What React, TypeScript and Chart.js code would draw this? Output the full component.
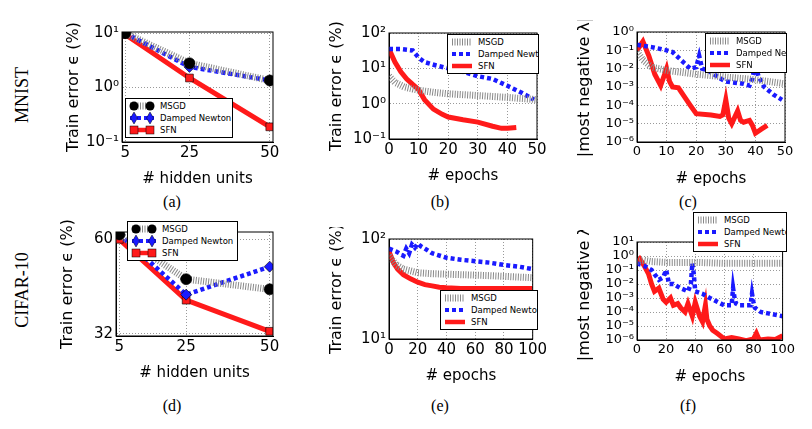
import React, { useEffect, useRef } from "react";
import { Chart, registerables } from "chart.js";
Chart.register(...registerables);

// ---- data ----
const unitsA = [5, 25, 50];
const aMSGD = [10, 2.8, 1.35];
const aDN = [10, 2.4, 1.35];
const aSFN = [9.5, 1.5, 0.19];

const bMSGDx = [0, 2, 5, 8, 10, 15, 20, 30, 40, 50];
const bMSGDy = [6, 4, 3, 2.6, 2.4, 2.1, 1.9, 1.7, 1.5, 1.3];
const bDNx = [0, 4, 8, 10, 12, 16, 20, 25, 30, 35, 40, 45, 49];
const bDNy = [35, 35, 32, 20, 15, 12, 10, 8, 6, 5, 3.2, 2, 1.3];
const bSFNx = [0, 2, 4, 6, 8, 10, 12, 15, 18, 20, 25, 30, 35, 38, 40, 43];
const bSFNy = [35, 15, 8, 5, 3.5, 2.5, 1.3, 0.7, 0.5, 0.42, 0.35, 0.3, 0.23, 0.2, 0.2, 0.21];

const cMSGDx = [0, 2, 5, 10, 20, 30, 40, 50];
const cMSGDy = [0.08, 0.03, 0.012, 0.008, 0.005, 0.0035, 0.0025, 0.0015];
const cDNx = [0, 5, 10, 12, 16, 18, 20, 21, 22, 24, 28, 30, 36, 38, 39, 40, 41, 43, 46, 49];
const cDNy = [0.2, 0.15, 0.1, 0.08, 0.02, 0.01, 0.012, 0.05, 0.01, 0.008, 0.003, 0.002, 0.0015, 0.0012, 0.003, 0.02, 0.004, 0.001, 0.0004, 0.0002];
const cSFNx = [0, 2, 4, 6, 8, 10, 11, 12, 14, 16, 18, 20, 25, 28, 29, 30, 31, 32, 34, 35, 36, 38, 39, 40, 42, 44];
const cSFNy = [0.1, 0.3, 0.05, 0.005, 0.0012, 0.01, 0.002, 0.001, 0.0009, 0.0003, 0.0001, 3.5e-5, 3e-5, 2.5e-5, 3e-5, 2e-4, 2e-5, 1e-5, 5e-5, 1.5e-5, 1.2e-5, 1.5e-5, 8e-6, 3e-6, 5e-6, 8e-6];

const dMSGD = [62, 46, 43];
const dDN = [62, 41.5, 50];
const dSFN = [60, 40, 32.5];

const eMSGDx = [0, 5, 10, 20, 30, 50, 70, 100];
const eMSGDy = [68, 55, 50, 46, 45, 44, 43, 41];
const eDNx = [0, 5, 10, 12, 14, 16, 18, 20, 22, 25, 30, 40, 50, 60, 70, 80, 90, 100];
const eDNy = [80, 75, 68, 80, 72, 88, 82, 90, 85, 80, 72, 65, 62, 60, 58, 55, 53, 50];
const eSFNx = [0, 3, 6, 10, 15, 20, 25, 30, 35, 40, 50, 60, 80, 100];
const eSFNy = [75, 58, 50, 44, 40, 37, 35, 34, 33, 32.5, 32, 32, 32, 32];

const fMSGDx = [0, 5, 10, 20, 40, 60, 80, 100];
const fMSGDy = [0.4, 0.5, 0.4, 0.35, 0.35, 0.3, 0.3, 0.3];
const fDNx = [0, 5, 10, 12, 15, 18, 20, 22, 25, 30, 35, 37, 38, 39, 40, 45, 50, 60, 65, 66, 67, 68, 70, 78, 79, 80, 81, 85, 90, 100];
const fDNy = [0.3, 0.2, 0.1, 0.05, 0.02, 0.03, 0.1, 0.01, 0.01, 0.005, 0.003, 0.01, 0.3, 0.05, 0.003, 0.002, 0.001, 0.0003, 0.0003, 0.005, 0.001, 0.0004, 0.0003, 0.0003, 0.002, 0.0005, 0.0002, 0.0001, 0.00008, 0.00005];
const fSFNx = [0, 2, 5, 8, 10, 12, 15, 18, 20, 23, 25, 28, 30, 33, 35, 38, 40, 43, 45, 47, 48, 50, 52, 55, 60, 65, 70, 75, 80, 82, 84, 90, 95, 100];
const fSFNy = [0.3, 0.6, 0.2, 0.05, 0.01, 0.003, 0.005, 0.0008, 0.0005, 0.001, 0.0003, 0.0004, 0.0002, 0.0001, 0.0004, 0.00005, 0.0005, 0.00005, 0.00002, 0.0003, 0.00003, 0.00001, 0.000005, 0.000003, 0.0000012, 0.0000015, 0.0000012, 0.0000009, 0.0000012, 0.000003, 0.000001, 0.0000012, 0.0000011, 0.000002];

const FONT = "DejaVu Sans";
const SUP: Record<string, string> = { "-": "⁻", "0": "⁰", "1": "¹", "2": "²", "3": "³", "4": "⁴", "5": "⁵", "6": "⁶" };
const pow10 = (e: number) => "10" + String(e).split("").map((c) => SUP[c]).join("");

const pts = (xs: number[], ys: number[]) => xs.map((x, i) => ({ x, y: ys[i] }));

const msgdStyle = { borderColor: "#888", borderWidth: 7, borderDash: [1, 1.5], pointRadius: 0 };
const dnStyle = { borderColor: "#1a1aff", borderWidth: 4.5, borderDash: [4, 3], pointRadius: 0 };
const sfnStyle = { borderColor: "#ff1a1a", borderWidth: 5, pointRadius: 0 };

const frame = {
  id: "frame",
  afterDraw(c: any) {
    const { left, top, right, bottom } = c.chartArea;
    const ctx = c.ctx;
    ctx.save();
    ctx.strokeStyle = "#000";
    ctx.lineWidth = 1;
    ctx.strokeRect(left, top, right - left, bottom - top);
    ctx.restore();
  },
};

type P = {
  left: number; top: number; w: number; h: number;
  datasets: any[];
  xmin: number; xmax: number; xticks: number[];
  ylog: number[]; ymin: number; ymax: number; ylabels?: Record<number, string>;
  ytitle: string; xtitle: string; tickSize?: number; yw?: number;
};

const XH = 46, PAD = 12;

function Panel(p: P) {
  const ref = useRef<HTMLCanvasElement>(null);
  const YW = p.yw ?? 58;
  useEffect(() => {
    const ts = p.tickSize ?? 15;
    const chart = new Chart(ref.current!, {
      type: "line",
      data: { datasets: p.datasets },
      plugins: [frame],
      options: {
        animation: false,
        responsive: false,
        plugins: { legend: { display: false }, tooltip: { enabled: false } },
        layout: { padding: { top: PAD, right: PAD, left: 0, bottom: 0 } },
        scales: {
          x: {
            type: "linear", min: p.xmin, max: p.xmax,
            afterBuildTicks: (s: any) => { s.ticks = p.xticks.map((v) => ({ value: v })); },
            afterFit: (s: any) => { s.height = XH; },
            ticks: { color: "#000", font: { family: FONT, size: ts }, padding: 2, maxRotation: 0, autoSkip: false, callback: (v: any) => String(v) },
            grid: { color: "#999", drawTicks: false },
            border: { dash: [1, 2], color: "#000" },
            title: { display: true, text: p.xtitle, color: "#000", font: { family: FONT, size: 15 }, padding: 0 },
          },
          y: {
            type: "logarithmic", min: p.ymin, max: p.ymax,
            afterBuildTicks: (s: any) => { s.ticks = p.ylog.map((v) => ({ value: v })); },
            afterFit: (s: any) => { s.width = YW; },
            ticks: {
              color: "#000", font: { family: FONT, size: ts }, padding: 3, autoSkip: false,
              callback: (v: any) => (p.ylabels ? p.ylabels[v] ?? "" : pow10(Math.round(Math.log10(v)))),
            },
            grid: { color: "#999", drawTicks: false },
            border: { dash: [1, 2], color: "#000" },
            title: { display: true, text: p.ytitle, color: "#000", font: { family: FONT, size: 16 }, padding: 0 },
          },
        },
      } as any,
    });
    return () => chart.destroy();
  }, []);
  return (
    <canvas
      ref={ref}
      width={p.w + YW + PAD}
      height={p.h + XH + PAD}
      style={{ position: "absolute", left: p.left - YW, top: p.top - PAD, width: p.w + YW + PAD, height: p.h + XH + PAD }}
    />
  );
}

function Legend({ x, y, w, markers }: { x: number; y: number; w: number; markers?: boolean }) {
  const rows = [
    { t: "MSGD", c: "#888", dash: "1 1.5", sw: 7, m: "circle", mc: "#000" },
    { t: "Damped Newton", c: "#1a1aff", dash: "4 3", sw: 4, m: "diamond", mc: "#1a1aff" },
    { t: "SFN", c: "#ff1a1a", dash: "", sw: 4.5, m: "square", mc: "#ff1a1a" },
  ];
  return (
    <div style={{ position: "absolute", left: x, top: y, width: w, background: "#fff", border: "1px solid #000", padding: "1px 3px", boxSizing: "border-box", fontFamily: FONT, fontSize: 8.5, zIndex: 2, whiteSpace: "nowrap", overflow: "hidden" }}>
      {rows.map((r) => (
        <div key={r.t} style={{ display: "flex", alignItems: "center", height: 12 }}>
          <svg width={markers ? 26 : 22} height={12} style={{ marginRight: 5, flexShrink: 0 }}>
            <line x1={1} y1={6} x2={markers ? 25 : 21} y2={6} stroke={r.c} strokeWidth={r.sw} strokeDasharray={r.dash} />
            {markers && [5, 21].map((cx) =>
              r.m === "circle" ? <circle key={cx} cx={cx} cy={6} r={4.5} fill={r.mc} /> :
              r.m === "diamond" ? <polygon key={cx} points={`${cx},0 ${cx + 3.5},6 ${cx},12 ${cx - 3.5},6`} fill={r.mc} stroke="#000" strokeWidth={0.5} /> :
              <rect key={cx} x={cx - 4} y={2} width={8} height={8} fill={r.mc} stroke="#000" strokeWidth={0.5} />
            )}
          </svg>
          <span>{r.t}</span>
        </div>
      ))}
    </div>
  );
}

const mk = (data: any, style: any, marker?: any) => ({ data, ...style, ...(marker || {}) });

export default function App() {
  const mA = (c: string, s: string) => ({ pointRadius: 5.5, pointStyle: s, pointBackgroundColor: c, pointBorderColor: "#000", pointBorderWidth: 0.6 });
  const serif: any = { position: "absolute", fontFamily: "Liberation Serif, serif", fontSize: 16, color: "#000" };
  return (
    <div style={{ position: "relative", width: 812, height: 429, margin: -8, background: "#fff", overflow: "hidden" }}>
      <Panel left={122} top={32} w={151} h={110} xmin={4} xmax={51} xticks={[5, 25, 50]} ylog={[0.1, 1, 10]} ymin={0.1} ymax={10.5}
        ytitle="Train error ϵ (%)" xtitle="# hidden units"
        datasets={[
          mk(pts(unitsA, aMSGD), msgdStyle, mA("#000", "circle")),
          mk(pts(unitsA, aDN), dnStyle, { ...mA("#1a1aff", "rectRot") }),
          mk(pts(unitsA, aSFN), sfnStyle, mA("#ff1a1a", "rect")),
        ]} />
      <Panel left={389} top={33} w={148} h={106} xmin={0} xmax={50} xticks={[0, 10, 20, 30, 40, 50]} ylog={[0.1, 1, 10, 100]} ymin={0.1} ymax={100}
        ytitle="Train error ϵ (%)" xtitle="# epochs" yw={62}
        datasets={[mk(pts(bMSGDx, bMSGDy), msgdStyle), mk(pts(bDNx, bDNy), dnStyle), mk(pts(bSFNx, bSFNy), sfnStyle)]} />
      <Panel left={637} top={32} w={148} h={110} xmin={0} xmax={50} xticks={[0, 10, 20, 30, 40, 50]} ylog={[1e-6, 1e-5, 1e-4, 1e-3, 1e-2, 1e-1, 1]} ymin={1e-6} ymax={1}
        ytitle="|most negative λ|" xtitle="# epochs" tickSize={13} yw={62}
        datasets={[mk(pts(cMSGDx, cMSGDy), msgdStyle), mk(pts(cDNx, cDNy), dnStyle), mk(pts(cSFNx, cSFNy), sfnStyle)]} />
      <Panel left={116} top={232} w={157} h={104} xmin={4} xmax={51} xticks={[5, 25, 50]} ylog={[32, 60]} ymin={31.5} ymax={63} ylabels={{ 32: "32", 60: "60" }}
        ytitle="Train error ϵ (%)" xtitle="# hidden units"
        datasets={[
          mk(pts(unitsA, dMSGD), msgdStyle, mA("#000", "circle")),
          mk(pts(unitsA, dDN), dnStyle, mA("#1a1aff", "rectRot")),
          mk(pts(unitsA, dSFN), sfnStyle, mA("#ff1a1a", "rect")),
        ]} />
      <Panel left={389} top={239} w={148} h={100} xmin={0} xmax={100} xticks={[0, 20, 40, 60, 80, 100]} ylog={[10, 100]} ymin={10} ymax={100}
        ytitle="Train error ϵ (%)" xtitle="# epochs" yw={62}
        datasets={[mk(pts(eMSGDx, eMSGDy), msgdStyle), mk(pts(eDNx, eDNy), dnStyle), mk(pts(eSFNx, eSFNy), sfnStyle)]} />
      <Panel left={637} top={242} w={148} h={98} xmin={0} xmax={100} xticks={[0, 20, 40, 60, 80, 100]} ylog={[1e-6, 1e-5, 1e-4, 1e-3, 1e-2, 1e-1, 1, 10]} ymin={1e-6} ymax={10}
        ytitle="|most negative λ|" xtitle="# epochs" tickSize={13} yw={62}
        datasets={[mk(pts(fMSGDx, fMSGDy), msgdStyle), mk(pts(fDNx, fDNy), dnStyle), mk(pts(fSFNx, fSFNy), sfnStyle)]} />

      <Legend x={125} y={98} w={108} markers />
      <Legend x={447} y={34} w={92} />
      <Legend x={705} y={33} w={82} />
      <Legend x={127} y={221} w={111} markers />
      <Legend x={440} y={290} w={98} />
      <Legend x={693} y={212} w={94} />

      <div style={{ ...serif, left: 12, top: 95, transform: "rotate(-90deg)", transformOrigin: "left top", fontSize: 18, width: 90, textAlign: "center", marginTop: 45 }}>MNIST</div>
      <div style={{ ...serif, left: 12, top: 290, transform: "rotate(-90deg)", transformOrigin: "left top", fontSize: 18, width: 110, textAlign: "center", marginTop: 55 }}>CIFAR-10</div>
      {[["(a)", 172, 193], ["(b)", 440, 193], ["(c)", 688, 193], ["(d)", 172, 397], ["(e)", 440, 397], ["(f)", 688, 397]].map(([t, x, y]) => (
        <div key={t as string} style={{ ...serif, left: (x as number) - 20, top: y as number, width: 40, textAlign: "center" }}>{t}</div>
      ))}
    </div>
  );
}
